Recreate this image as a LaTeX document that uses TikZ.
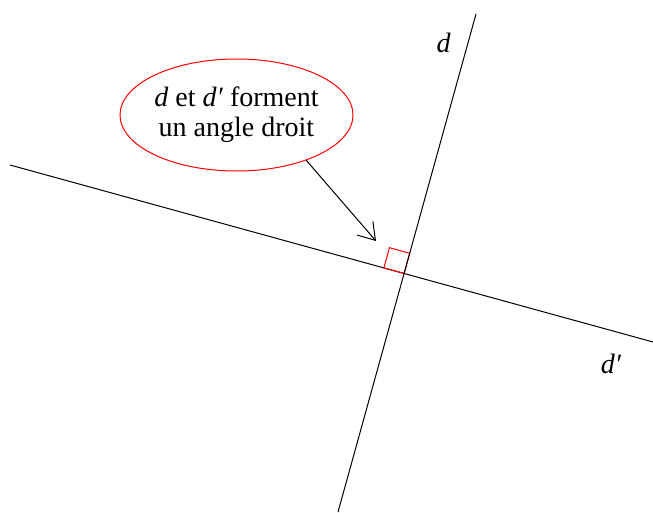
\documentclass[tikz,border=0pt]{standalone}
\usepackage{fontspec}
\setmainfont{Liberation Serif}
\usepackage{tikz}
\usetikzlibrary{arrows.meta,shapes.geometric,calc}

\begin{document}
\begin{tikzpicture}[x=1pt,y=-1pt,line width=1pt,
    bulle/.style={ellipse,draw=red,inner sep=0pt,minimum width=233pt,minimum height=112pt,align=center,font=\fontsize{28}{30}\selectfont},
    nomdroite/.style={anchor=base,font=\fontsize{28}{30}\selectfont\itshape}]
  \useasboundingbox (0,0) rectangle (653,513);
  % Droites d et d'
  \coordinate (dbas) at (338,512);
  \coordinate (dhaut) at (476,14);
  \coordinate (dpgauche) at (10,165);
  \coordinate (dpdroite) at (653,342);
  \coordinate (inter) at (intersection of dbas--dhaut and dpgauche--dpdroite);
  \draw (dpgauche) -- (dpdroite);
  % Angle droit
  \coordinate (coinA) at ($(inter)!21pt!(dhaut)$);
  \coordinate (coinB) at ($(inter)!21pt!(dpgauche)$);
  \draw[red] (inter) -- (coinA) -- ($(coinA)+(coinB)-(inter)$) -- (coinB) -- cycle;
  \draw (dbas) -- (dhaut);
  \node[nomdroite] (nomd) at (443.5,53) {d};
  \node[nomdroite] (nomdp) at (611,373) {d′};
  % Bulle
  \node[bulle] (bulle) at (236.5,115) {\textit{d} et \textit{d′} forment\\un angle droit};
  \coordinate (cible) at (376,241);
  \draw[-{Straight Barb[length=16pt,width=21pt]}] (bulle.-33) -- (cible);
\end{tikzpicture}
\end{document}
